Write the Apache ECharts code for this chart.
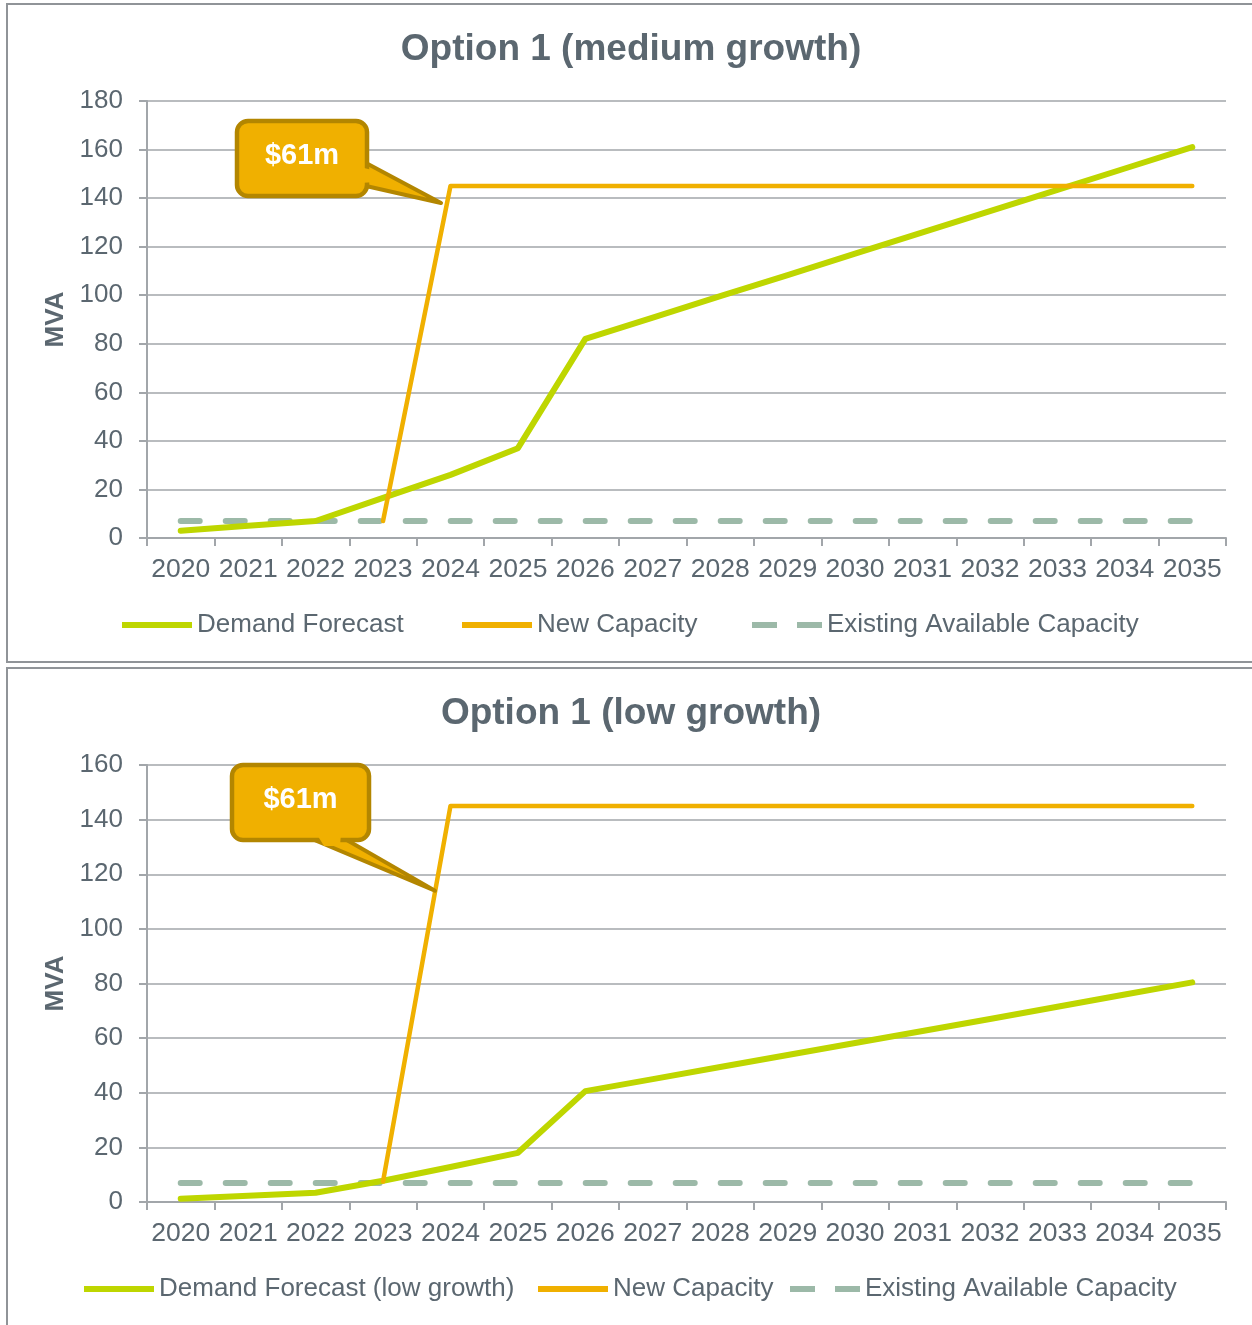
<!DOCTYPE html>
<html>
<head>
<meta charset="utf-8">
<script src="https://cdn.jsdelivr.net/npm/echarts@6/dist/echarts.min.js"></script>
<style>
  html, body { margin: 0; padding: 0; background: #fff; overflow: hidden; }
  #chart { width: 1252px; height: 1325px; }
</style>
</head>
<body>
<div id="chart"></div>
<script>
// years on the x axis (same for both charts)
const years = ['2020','2021','2022','2023','2024','2025','2026','2027','2028','2029','2030','2031','2032','2033','2034','2035'];

// Option 1 (medium growth)
const demandMedium = [3, 5, 7, 16.5, 26, 37, 82, 90.8, 99.6, 108.3, 117.1, 125.9, 134.6, 143.4, 152.2, 161];
const newCapMedium = [null, null, null, 7, 145, 145, 145, 145, 145, 145, 145, 145, 145, 145, 145, 145];
const existingMedium = [7, 7, 7, 7, 7, 7, 7, 7, 7, 7, 7, 7, 7, 7, 7, 7];

// Option 1 (low growth)
const demandLow = [1.2, 2.3, 3.4, 7.8, 12.8, 18, 40.6, 45, 49.4, 53.8, 58.2, 62.6, 67, 71.5, 76, 80.4];
const newCapLow = [null, null, null, 7.5, 145, 145, 145, 145, 145, 145, 145, 145, 145, 145, 145, 145];
const existingLow = [7, 7, 7, 7, 7, 7, 7, 7, 7, 7, 7, 7, 7, 7, 7, 7];

const calloutText = '$61m';

const txt = '#5b6770';
const grey = '#a2a6aa';
const lime = '#bed600';
const gold = '#f0b000';
const goldDark = '#b38600';
const sage = '#9cb9a8';
const font = 'Arial, "Liberation Sans", sans-serif';

const myChart = echarts.init(document.getElementById('chart'));

function xAxisCfg(gi) {
  return {
    type: 'category', gridIndex: gi, data: years, boundaryGap: true,
    axisLine: { lineStyle: { color: grey, width: 2 } },
    axisTick: { show: true, length: 8, lineStyle: { color: grey, width: 2 } },
    axisLabel: { color: txt, fontSize: 26.5, fontFamily: font, margin: 18, interval: 0 }
  };
}
function yAxisCfg(gi, max) {
  return {
    type: 'value', gridIndex: gi, min: 0, max: max, interval: 20,
    name: 'MVA', nameLocation: 'middle', nameRotate: 90, nameGap: 78,
    nameTextStyle: { color: txt, fontSize: 26, fontWeight: 'bold', fontFamily: font },
    axisLine: { show: true, lineStyle: { color: grey, width: 2 } },
    axisTick: { show: true, length: 8, lineStyle: { color: grey, width: 2 } },
    splitLine: { lineStyle: { color: grey, width: 1.5 } },
    axisLabel: { color: txt, fontSize: 26, fontFamily: font, margin: 24 }
  };
}
function lineSeries(name, data, gi, color, width, dashed) {
  return {
    name: name, type: 'line', data: data, xAxisIndex: gi, yAxisIndex: gi,
    symbol: 'none', smooth: false, connectNulls: false,
    itemStyle: { color: color },
    lineStyle: dashed
      ? { color: color, width: width, type: [19, 26], cap: 'round' }
      : { color: color, width: width, cap: 'round', join: 'round' },
    z: dashed ? 1 : 3
  };
}

// one legend per item so every entry sits where it does in the original
const solidIcon = 'path://M0,0h70v6h-70z';
const dashIcon = 'path://M0,0h25v6h-25zM45,0h25v6h-25z';
function legendItem(name, left, top, icon) {
  return {
    data: [{ name: name, icon: icon }], left: left, top: top,
    itemWidth: 70, itemHeight: 6, selectedMode: false,
    textStyle: { color: txt, fontSize: 26, fontFamily: font }
  };
}

const option = {
  animation: false,
  legend: [
    legendItem('Demand Forecast', 117, 607, solidIcon),
    legendItem('New Capacity', 457, 607, solidIcon),
    legendItem('Existing Available Capacity', 747, 607, dashIcon),
    legendItem('Demand Forecast (low growth)', 79, 1271, solidIcon),
    legendItem('New Capacity', 533, 1271, solidIcon),
    legendItem('Existing Available Capacity', 785, 1271, dashIcon)
  ],
  grid: [
    { left: 147, top: 101, width: 1079, height: 437 },
    { left: 147, top: 765, width: 1079, height: 437 }
  ],
  xAxis: [xAxisCfg(0), xAxisCfg(1)],
  yAxis: [yAxisCfg(0, 180), yAxisCfg(1, 160)],
  series: [
    lineSeries('Existing Available Capacity', existingMedium, 0, sage, 6, true),
    lineSeries('Demand Forecast', demandMedium, 0, lime, 6, false),
    lineSeries('New Capacity', newCapMedium, 0, gold, 4.5, false),
    lineSeries('Existing Available Capacity', existingLow, 1, sage, 6, true),
    lineSeries('Demand Forecast (low growth)', demandLow, 1, lime, 6, false),
    lineSeries('New Capacity', newCapLow, 1, gold, 4.5, false)
  ]
};
myChart.setOption(option);

// point on the rising New Capacity segment (between 2023 and 2024) in pixels
function tipPoint(gi, frac, value) {
  const a = myChart.convertToPixel({ gridIndex: gi }, ['2023', value]);
  const b = myChart.convertToPixel({ gridIndex: gi }, ['2024', value]);
  return [a[0] + (b[0] - a[0]) * frac, a[1]];
}

function callout(box, base, tip, cover) {
  return [
    { type: 'polygon', z: 100, shape: { points: [base[0], tip, base[1]] },
      style: { fill: gold, stroke: goldDark, lineWidth: 4, lineJoin: 'round' } },
    { type: 'rect', z: 101, shape: { x: box.x, y: box.y, width: box.w, height: box.h, r: 11 },
      style: { fill: gold, stroke: goldDark, lineWidth: 4.5 } },
    { type: 'polygon', z: 102, shape: { points: cover },
      style: { fill: gold } },
    { type: 'text', z: 103,
      style: { x: box.x + box.w / 2, y: box.y + box.h / 2 - 3, text: calloutText,
        fill: '#fff', fontSize: 29, fontWeight: 'bold', fontFamily: font,
        textAlign: 'center', textVerticalAlign: 'middle' } }
  ];
}

function titleText(text, y) {
  return { type: 'text', z: 10,
    style: { x: 631, y: y, text: text, fill: txt, fontSize: 37, fontWeight: 'bold',
      fontFamily: font, textAlign: 'center', textVerticalAlign: 'middle' } };
}

const tip1 = tipPoint(0, 0.86, 138);
const tip2 = tipPoint(1, 0.77, 114);

const graphics = [
  { type: 'rect', z: 0, shape: { x: 7, y: 4, width: 1260, height: 658 },
    style: { fill: 'none', stroke: '#909498', lineWidth: 2 } },
  { type: 'rect', z: 0, shape: { x: 7, y: 668, width: 1260, height: 680 },
    style: { fill: 'none', stroke: '#909498', lineWidth: 2 } },
  titleText('Option 1 (medium growth)', 50),
  titleText('Option 1 (low growth)', 714)
].concat(
  callout({ x: 237, y: 121, w: 130, h: 75 }, [[366, 163], [366, 186]], tip1,
    [[360, 167], [376, 171], [376, 182], [360, 183]]),
  callout({ x: 232, y: 765, w: 137, h: 75 }, [[312, 839], [345, 839]], tip2,
    [[316, 833], [341, 833], [340, 846], [324, 846]])
);

myChart.setOption({ graphic: graphics });
</script>
</body>
</html>
